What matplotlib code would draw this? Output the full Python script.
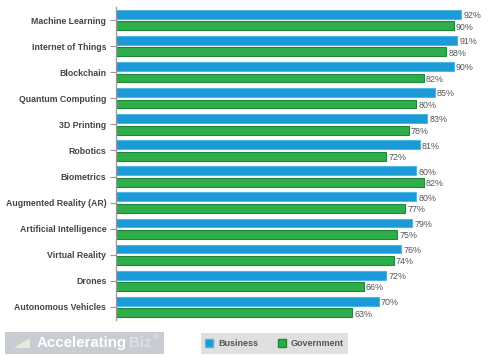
import matplotlib
matplotlib.use("Agg")
import matplotlib.pyplot as plt
from matplotlib.patches import Rectangle, Patch
import numpy as np

categories = ["Machine Learning", "Internet of Things", "Blockchain", "Quantum Computing",
              "3D Printing", "Robotics", "Biometrics", "Augmented Reality (AR)",
              "Artificial Intelligence", "Virtual Reality", "Drones", "Autonomous Vehicles"]
business = [92, 91, 90, 85, 83, 81, 80, 80, 79, 76, 72, 70]
government = [90, 88, 82, 80, 78, 72, 82, 77, 75, 74, 66, 63]
series_names = ["Business", "Government"]

plt.rcParams['font.family'] = ['Liberation Sans', 'DejaVu Sans']

W, H = 500, 357
fig = plt.figure(figsize=(W/100, H/100), dpi=100)
fig.patch.set_facecolor('white')

left, right, top, bottom = 116, 491, 7, 320
ax = fig.add_axes([left/W, 1-bottom/H, (right-left)/W, (bottom-top)/H])

blue = '#1a9ad6'
blue_edge = '#4fb6e6'
green = '#2eae4a'
green_edge = '#21853a'

y = np.arange(len(categories))
h = 0.34
off = 0.22
ax.barh(y - off, business, height=h, color=blue, edgecolor=blue_edge, linewidth=0.8)
ax.barh(y + off, government, height=h, color=green, edgecolor=green_edge, linewidth=0.8)

for yi, v in zip(y, business):
    ax.text(v + 0.6, yi - off + 0.05, f"{v}%", va='center', ha='left', fontsize=6.4, color='#555555')
for yi, v in zip(y, government):
    ax.text(v + 0.6, yi + off + 0.05, f"{v}%", va='center', ha='left', fontsize=6.4, color='#555555')

ax.set_xlim(0, 100)
ax.set_ylim(len(categories) - 0.5, -0.5)
ax.set_yticks(y)
ax.set_yticklabels(categories, fontsize=6.3, fontweight='bold', color='#444444')
ax.set_xticks([])
for s in ['top', 'right', 'bottom']:
    ax.spines[s].set_visible(False)
ax.spines['left'].set_color('#999999')
ax.spines['left'].set_linewidth(0.9)
ax.tick_params(axis='y', length=4, width=0.8, color='#999999', pad=3)

# Legend box
fig.patches.append(Rectangle((201/W, 1-354/H), (348-201)/W, 21/H, transform=fig.transFigure,
                             facecolor='#e0e0e0', edgecolor='none', zorder=0))
handles = [Patch(facecolor=blue, edgecolor=blue_edge), Patch(facecolor=green, edgecolor=green_edge)]
fig.legend(handles, series_names, loc='center', bbox_to_anchor=(274.5/W, 1-343.5/H), ncol=2,
           frameon=False, fontsize=6.5, handlelength=0.9, handleheight=0.9, handletextpad=0.5,
           columnspacing=2.2, labelcolor='#555555', prop={'weight': 'bold', 'size': 6.5})

# Watermark box
fig.patches.append(Rectangle((5/W, 1-354/H), (164-5)/W, 22/H, transform=fig.transFigure,
                             facecolor='#c9cdd3', edgecolor='none', zorder=0))
# small icon
icon_x = [14/W, 30/W, 30/W]
icon_y = [1-348/H, 1-338/H, 1-348/H]
fig.patches.append(plt.Polygon(list(zip(icon_x, icon_y)), closed=True, transform=fig.transFigure,
                               facecolor='#e6ecd8', edgecolor='none'))
fig.text(37/W, 1-343/H, "Accelerating", fontsize=10.8, fontweight='bold', color='white',
         va='center', ha='left')
fig.text(129/W, 1-343/H, "Biz", fontsize=10.8, fontweight='bold', color='#dde0e4',
         va='center', ha='left')
fig.text(154/W, 1-338/H, "®", fontsize=5, color='#e8eaee', va='center', ha='left')

fig.savefig("out.png", dpi=100)
